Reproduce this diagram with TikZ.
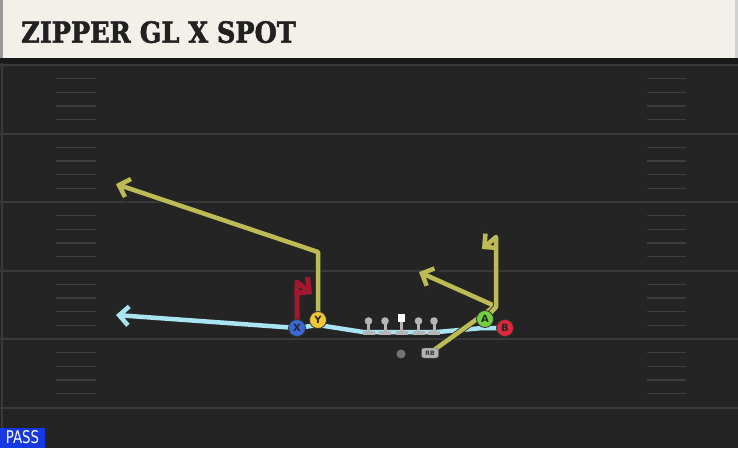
\documentclass[tikz,border=0pt]{standalone}
\usepackage{fontspec}
\setmainfont{DejaVu Sans}
\newfontfamily\titlefont{DejaVu Serif}[BoldFeatures={FakeBold=2}]
\usetikzlibrary{arrows.meta}

\definecolor{turf}{HTML}{242424}
\definecolor{yardline}{HTML}{393939}
\definecolor{hashmark}{HTML}{3D3D3D}
\definecolor{banner}{HTML}{F3F0E9}
\definecolor{routeyellow}{HTML}{BDBB55}
\definecolor{routered}{HTML}{A3182F}
\definecolor{motionblue}{HTML}{A8E4F2}
\definecolor{xblue}{HTML}{3B68D6}
\definecolor{yyellow}{HTML}{F2C933}
\definecolor{agreen}{HTML}{72CF3F}
\definecolor{bred}{HTML}{E0283A}
\definecolor{linegrey}{HTML}{B5B5B5}
\definecolor{passblue}{HTML}{1638E0}

\pgfdeclarelayer{field}
\pgfdeclarelayer{routes}
\pgfsetlayers{field,routes,main}

\tikzset{
  route/.style={line width=4.5pt, line join=round,
    preaction={draw=black!85, line width=6pt},
    -{Straight Barb[length=0pt 2.1, width=0pt 4.2]}},
  player/.style={circle, draw=black!80, line width=0.8pt, minimum size=17pt,
    inner sep=0pt, font=\bfseries\fontsize{10}{10}\selectfont, text=black!85},
}

\begin{document}
\begin{tikzpicture}[x=1pt,y=-1pt]
\useasboundingbox (0,0) rectangle (738,448);

\begin{pgfonlayer}{field}
    % turf, yard lines and hashes
    \fill[turf] (0,0) rectangle (738,448);
    \fill[black!90] (0,57) rectangle (738,63.5);
    \draw[yardline, line width=2pt] (1.5,63) -- (1.5,448);
    \foreach \y in {65,133.5,202,270.5,339,407.5}
        \draw[yardline, line width=2pt] (0,\y) -- (738,\y);
    \foreach \y in {65,133.5,202,270.5,339}
        \foreach \k in {1,...,4} {
            \draw[hashmark, line width=1.3pt] (56,\y+13.7*\k) -- (96,\y+13.7*\k);
            \draw[hashmark, line width=1.3pt] (647,\y+13.7*\k) -- (686,\y+13.7*\k);
        }

    % title banner
    \fill[banner] (0,0) rectangle (738,57.5);
    \fill[black!40] (0,0) rectangle (2.5,57.5);
    \fill[black!18] (735,0) rectangle (738,57.5);
\end{pgfonlayer}

\node[anchor=base west, inner sep=0pt, text=black!87,
    font=\titlefont\bfseries\fontsize{29}{29}\selectfont] (title) at (21,42.7)
    {\scalebox{0.88}[1]{ZIPPER GL X SPOT}};

% players
\node[player, fill=xblue] (x) at (297,328) {X};
\node[player, fill=yyellow] (y) at (318,320) {Y};
\node[player, fill=agreen] (a) at (485,319) {A};
\node[player, fill=bred] (b) at (505,328) {B};
\node[circle, fill=black!55, minimum size=9pt, inner sep=0pt] (qb) at (401,354) {};
\node[rounded corners=2.5pt, fill=black!30, draw=black!60, minimum width=17pt,
    minimum height=10pt, inner sep=0pt, text=black!80,
    font=\bfseries\fontsize{6}{6}\selectfont] (rb) at (430,353) {RB};

% line
\foreach \lx in {368.5,385,418.5,434} {
    \fill[linegrey] (\lx-6,331) rectangle (\lx+6,334.5);
    \fill[linegrey] (\lx-1.5,321) rectangle (\lx+1.5,332);
    \fill[linegrey] (\lx,321) circle (3.8);
}
\fill[linegrey] (395.5,331) rectangle (407.5,334.5);
\fill[linegrey] (400,321) rectangle (403,332);
\node[fill=white, minimum size=7.5pt, inner sep=0pt] (c) at (401.5,318) {};

% route bends
\coordinate (m1) at (483,328);
\coordinate (m2) at (437,332);
\coordinate (m3) at (363,332);
\coordinate (m4) at (318,325);
\coordinate (xmotion) at (116,315);
\coordinate (yturn) at (318,252);
\coordinate (ytip) at (116,184);
\coordinate (xturn) at (297,282);
\coordinate (xtip) at (312,294);
\coordinate (abreak) at (496,307);
\coordinate (aturn) at (496,237);
\coordinate (atip) at (482,249);
\coordinate (rbbreak) at (495,306);
\coordinate (rbtip) at (419,272);

\begin{pgfonlayer}{routes}
    \draw[route, motionblue] (b.center) -- (m1) -- (m2) -- (m3) -- (m4) -- (x.center) -- (xmotion);
    \draw[route, routeyellow] (y.center) -- (yturn) -- (ytip);
    \draw[route, routered, line width=5pt] (x.center) -- (xturn) -- (xtip);
    \draw[route, routeyellow] (rb.center) -- (rbbreak) -- (rbtip);
    \draw[route, routeyellow] (a.center) -- (abreak) -- (aturn) -- (atip);
\end{pgfonlayer}

% play type
\fill[passblue] (0,427.5) rectangle (45,448);
\node[text=white, inner sep=0pt, font=\fontsize{17.5}{17.5}\selectfont] (pass) at (22.5,437.5)
    {\scalebox{0.76}[1]{PASS}};
\end{tikzpicture}
\end{document}
